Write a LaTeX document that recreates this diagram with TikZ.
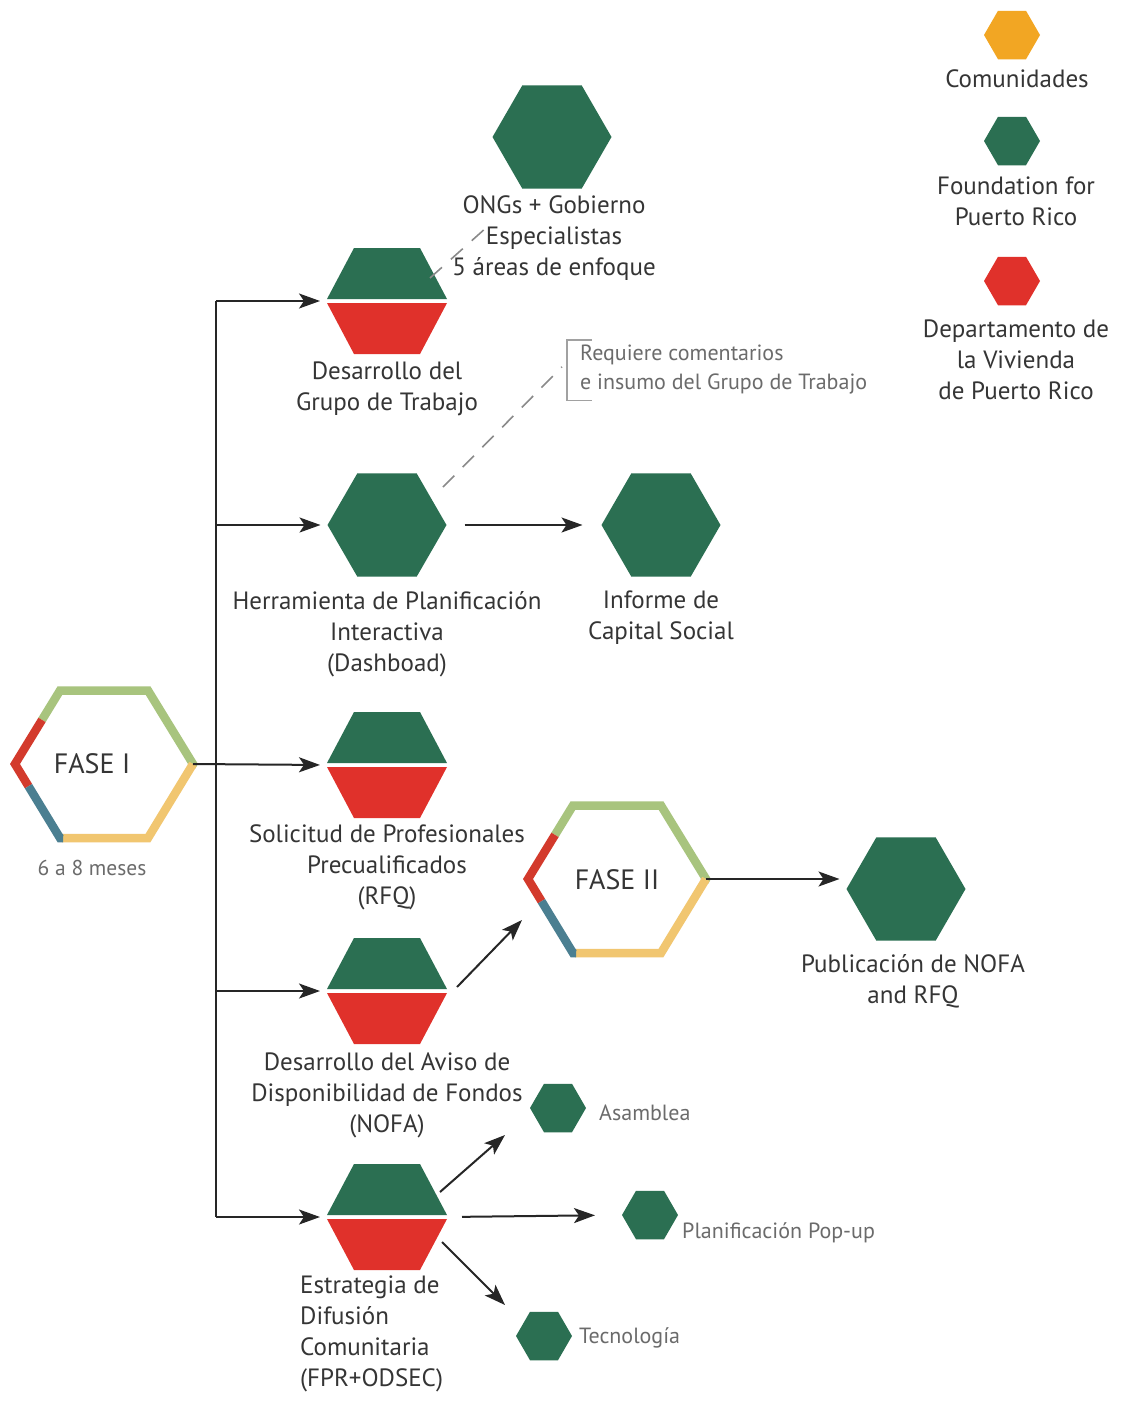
\documentclass[tikz,border=0pt]{standalone}
\usepackage{fontspec}
\setmainfont{PT Sans}
\usetikzlibrary{arrows.meta,shapes.geometric,calc}
\definecolor{fgreen}{HTML}{2B6F52}
\definecolor{fred}{HTML}{E0312B}
\definecolor{forange}{HTML}{F2A623}
\definecolor{pgreen}{HTML}{A8C47E}
\definecolor{pred}{HTML}{D33A2C}
\definecolor{pblue}{HTML}{4B7F91}
\definecolor{pyellow}{HTML}{F1C670}
\definecolor{txt}{HTML}{353535}
\definecolor{soft}{HTML}{6B6B6B}
\definecolor{dashgray}{HTML}{8A8A8A}

\newcommand{\splithex}[3]{%
  \node[hexnode, minimum size=120pt] (#1) at (#2,#3) {};
  \begin{scope}[shift={(#2,#3)}]
    \fill[fgreen] (-60,-2) -- (-33,-53) -- (33,-53) -- (60,-2) -- cycle;
    \fill[fred] (-60,2) -- (-33,53) -- (33,53) -- (60,2) -- cycle;
  \end{scope}}

\newcommand{\fasehex}[3]{%
  \node[inner sep=0pt, outer sep=0pt, minimum width=178pt, minimum height=148pt] (#1) at (#2,#3) {};
  \begin{scope}[shift={(#2,#3)}, line width=8.5pt, line join=miter]
    \draw[pgreen] (-62,-44.1) -- (-44,-73.5) -- (44,-73.5) -- (89,0) -- (87.4,2.6);
    \draw[pyellow] (-42,74) -- (44,74) -- (89,0);
    \draw[pred] (-62,-44.1) -- (-89,0) -- (-75.5,22.2);
    \draw[pblue] (-75.5,22.2) -- (-44,74) -- (-41,74);
  \end{scope}}

\begin{document}
\begin{tikzpicture}[x=1pt,y=-1pt,
  hexnode/.style={regular polygon, regular polygon sides=6, inner sep=0pt, outer sep=0pt},
  ghex/.style={hexnode, fill=fgreen, minimum size=#1},
  arr/.style={line width=2pt, draw=black!85, -{Stealth[length=21pt,width=15pt,inset=5pt]}},
  lbl/.style={text=txt, font=\fontsize{25}{31}\selectfont, align=center, inner sep=0pt, anchor=north},
  small/.style={text=soft, font=\fontsize{22}{29}\selectfont, inner sep=0pt},
  dsh/.style={draw=dashgray, line width=1.6pt, dash pattern=on 16pt off 12pt}
]
\useasboundingbox[fill=white] (0,0) rectangle (1121,1403);

% ---------- legend ----------
\node[hexnode, fill=forange, minimum size=56pt] (legC) at (1012,35) {};
\node[lbl] (legCt) at (1017,69) {Comunidades};
\node[hexnode, fill=fgreen, minimum size=56pt] (legF) at (1012,141) {};
\node[lbl] (legFt) at (1016,177) {Foundation for\\Puerto Rico};
\node[hexnode, fill=fred, minimum size=56pt] (legD) at (1012,281) {};
\node[lbl] (legDt) at (1016,320) {Departamento de\\la Vivienda\\de Puerto Rico};

% ---------- FASE I ----------
\fasehex{fase1}{104}{764}
\node[text=txt, font=\fontsize{28}{32}\selectfont, inner sep=0pt] (f1t) at (92,764) {FASE I};
\node[small, font=\fontsize{21.5}{28}\selectfont] (f1m) at (92,868) {6 a 8 meses};

% ---------- hexes ----------
\splithex{grupo}{387}{301}
\node[ghex=119pt] (ongs) at (552,137) {};
\node[lbl] (ongst) at (554,195) {ONGs + Gobierno\\Especialistas\\5 áreas de enfoque};
\node[lbl] (grupot) at (387,362) {Desarrollo del\\Grupo de Trabajo};

\node[ghex=119pt] (dash) at (387,525) {};
\node[lbl] (dasht) at (387,591) {Herramienta de Planificación\\Interactiva\\(Dashboad)};
\node[ghex=119pt] (inf) at (661,525) {};
\node[lbl] (inft) at (661,591) {Informe de\\Capital Social};

\splithex{rfq}{387}{765}
\node[lbl] (rfqt) at (387,824) {Solicitud de Profesionales\\Precualificados\\(RFQ)};

\splithex{nofa}{387}{991}
\node[lbl] (nofat) at (387,1053) {Desarrollo del Aviso de\\Disponibilidad de Fondos\\(NOFA)};

\fasehex{fase2}{617}{879}
\node[text=txt, font=\fontsize{28}{32}\selectfont, inner sep=0pt] (f2t) at (617,880) {FASE II};

\node[ghex=119pt] (pub) at (906,889) {};
\node[lbl] (pubt) at (913,954) {Publicación de NOFA\\and RFQ};

\splithex{estr}{387}{1217}
\node[lbl, anchor=north west, align=left] (estrt) at (300,1276) {Estrategia de\\Difusión\\Comunitaria\\(FPR+ODSEC)};

\node[ghex=56pt] (asam) at (558,1108) {};
\node[small, anchor=west] (asamt) at (599,1113) {Asamblea};
\node[ghex=56pt] (pop) at (650,1215) {};
\node[small, anchor=west] (popt) at (682,1233) {Planificación Pop-up};
\node[ghex=56pt] (tec) at (544,1336) {};
\node[small, anchor=west] (tect) at (579,1338) {Tecnología};

% ---------- annotation ----------
\node[small, anchor=north west, align=left] (req) at (580,345) {Requiere comentarios\\e insumo del Grupo de Trabajo};
\draw[draw=dashgray!80, line width=1.5pt] ([shift={(12,-5)}]req.north west) -- ([shift={(-13,-5)}]req.north west) -- ([shift={(-13,6)}]req.south west) -- ([shift={(12,6)}]req.south west);
\draw[dsh] ([shift={(43,-23)}]grupo.center) -- ([shift={(100,-74)}]grupo.center);
\draw[dsh] ([shift={(56,-38)}]dash.center) -- ([shift={(-18,-3)}]req.west);

% ---------- connectors ----------
\coordinate (trTop) at (216,301);
\coordinate (trBot) at (216,1217);
\draw[line width=2pt, draw=black!85] (trTop) -- (trBot);
\draw[arr, shorten >=7pt] (fase1.east) -- (rfq.west);
\draw[arr, shorten >=7pt] (trTop) -- (grupo.west);
\draw[arr, shorten >=7pt] (trTop |- dash.west) -- (dash.west);
\draw[arr, shorten >=7pt] (trTop |- nofa.west) -- (nofa.west);
\draw[arr, shorten >=7pt] (trBot) -- (estr.west);
\draw[arr, shorten <=18pt, shorten >=19pt] (dash.east) -- (inf.west);
\draw[arr] ([shift={(10,-4)}]nofa.east) -- ([shift={(-6,41)}]fase2.west);
\draw[arr, shorten >=7pt] (fase2.east) -- (pub.west |- fase2.east);
\draw[arr] ([shift={(53,-25)}]estr.center) -- ([shift={(-53,27)}]asam.center);
\draw[arr, shorten <=15pt, shorten >=27pt] (estr.east) -- (pop.west);
\draw[arr] ([shift={(55,25)}]estr.center) -- ([shift={(-39,-31)}]tec.center);
\end{tikzpicture}
\end{document}
